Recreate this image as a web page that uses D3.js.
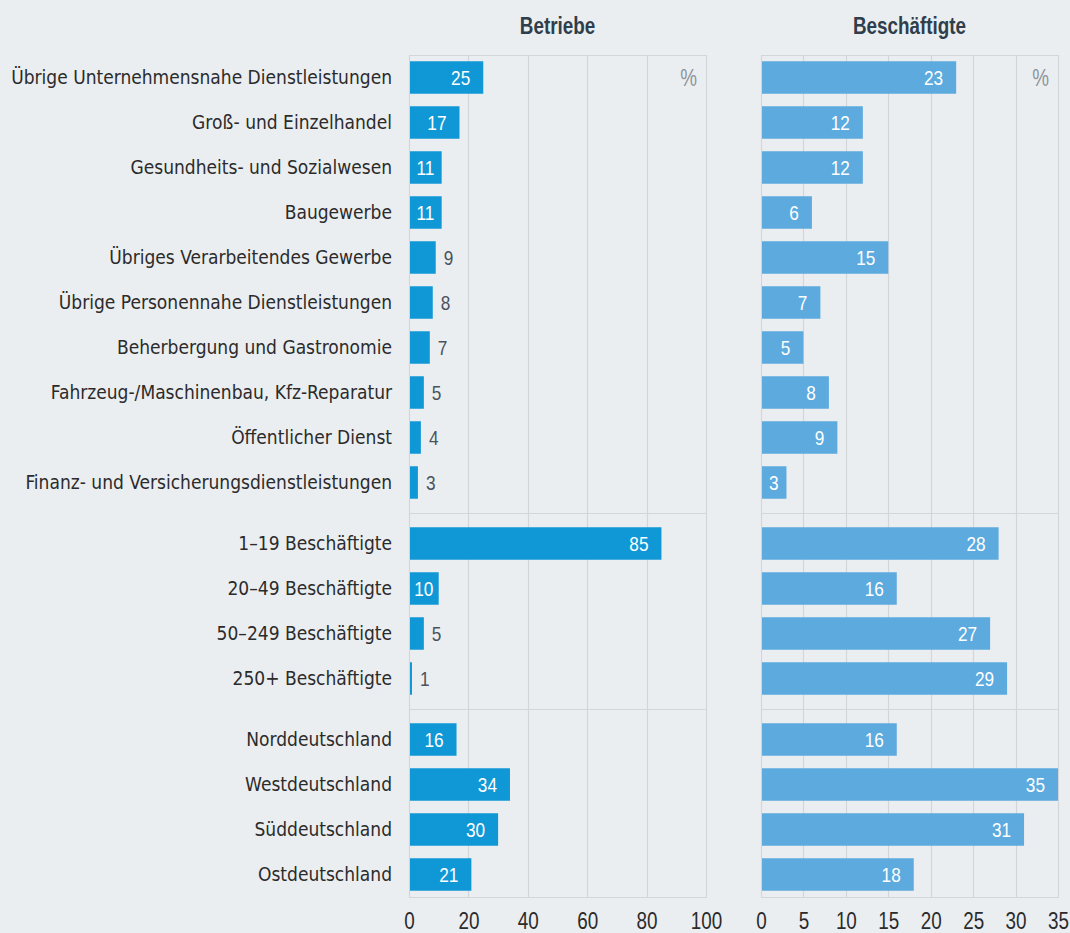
<!DOCTYPE html>
<html>
<head>
<meta charset="utf-8">
<script src="https://cdn.jsdelivr.net/npm/d3@7"></script>
<style>
  html, body { margin: 0; padding: 0; background: #ebeef1; }
  svg { display: block; }
</style>
</head>
<body>
<svg id="chart" width="1070" height="933"></svg>
<script>
// row labels, one array per block
var branchen = ["Übrige Unternehmensnahe Dienstleistungen", "Groß- und Einzelhandel",
  "Gesundheits- und Sozialwesen", "Baugewerbe", "Übriges Verarbeitendes Gewerbe",
  "Übrige Personennahe Dienstleistungen", "Beherbergung und Gastronomie",
  "Fahrzeug-/Maschinenbau, Kfz-Reparatur", "Öffentlicher Dienst",
  "Finanz- und Versicherungsdienstleistungen"];
var groessen = ["1–19 Beschäftigte", "20–49 Beschäftigte", "50–249 Beschäftigte", "250+ Beschäftigte"];
var regionen = ["Norddeutschland", "Westdeutschland", "Süddeutschland", "Ostdeutschland"];

// shares in percent, same row order
var betriebe = [25, 17, 11, 11, 9, 8, 7, 5, 4, 3, 85, 10, 5, 1, 16, 34, 30, 21];
var beschaeftigte = [23, 12, 12, 6, 15, 7, 5, 8, 9, 3, 28, 16, 27, 29, 16, 35, 31, 18];

var ticksBetriebe = [0, 20, 40, 60, 80, 100];
var ticksBeschaeftigte = [0, 5, 10, 15, 20, 25, 30, 35];

var svg = d3.select("#chart");
var panelTop = 55, rowStep = 45, groupGap = 16;
var groups = [branchen, groessen, regionen];

var rows = [];
groups.forEach(function(g, gi){
  g.forEach(function(name){
    rows.push({name: name, group: gi, idx: rows.length});
  });
});
var panelBottom = panelTop + rows.length * rowStep + (groups.length - 1) * groupGap;

var y = d3.scaleBand()
  .domain(rows.map(function(d){ return d.name; }))
  .range([panelTop, panelTop + rows.length * rowStep])
  .paddingInner(12.5 / 45)
  .paddingOuter(6.25 / 45);
function rowY(d){ return y(d.name) + d.group * groupGap; }
function rowMid(d){ return rowY(d) + y.bandwidth() / 2; }

// no narrow face installed: squeeze Liberation Sans horizontally instead
var numFont = "'Liberation Sans', Arial, sans-serif";
var squeeze = 0.82;
var labelFont = "'DejaVu Sans Condensed', sans-serif";
var gridCol = "#d3d6d9";

// category labels
svg.append("g").selectAll("text")
  .data(rows)
  .join("text")
  .attr("x", 392)
  .attr("y", rowMid)
  .attr("dy", "0.36em")
  .attr("text-anchor", "end")
  .style("font-family", labelFont)
  .style("font-size", "19px")
  .style("fill", "#2b2b2b")
  .text(function(d){ return d.name; });

var panels = [
  {title: "Betriebe", values: betriebe, domain: [0, 100], range: [409, 706],
   ticks: ticksBetriebe, color: "#1098d6", minInside: 10},
  {title: "Beschäftigte", values: beschaeftigte, domain: [0, 35], range: [761, 1058],
   ticks: ticksBeschaeftigte, color: "#5caade", minInside: 0}
];

panels.forEach(function(p){
  var x = d3.scaleLinear().domain(p.domain).range(p.range);
  var g = svg.append("g");
  function inside(d){ return p.values[d.idx] >= p.minInside; }

  // vertical grid
  g.selectAll("line.grid")
    .data(p.ticks)
    .join("line")
    .attr("class", "grid")
    .attr("x1", function(d){ return Math.round(x(d)) + 0.5; })
    .attr("x2", function(d){ return Math.round(x(d)) + 0.5; })
    .attr("y1", panelTop)
    .attr("y2", panelBottom)
    .style("stroke", gridCol)
    .style("stroke-width", 1.2);

  // top, bottom and block separators
  var seps = [panelTop, panelBottom];
  for (var gi = 1; gi < groups.length; gi++){
    var last = rows.filter(function(r){ return r.group === gi - 1; }).pop();
    var first = rows.filter(function(r){ return r.group === gi; })[0];
    seps.push((rowY(last) + y.bandwidth() + rowY(first)) / 2);
  }
  g.selectAll("line.sep")
    .data(seps)
    .join("line")
    .attr("class", "sep")
    .attr("x1", x(p.domain[0]))
    .attr("x2", x(p.domain[1]) + 1)
    .attr("y1", function(d){ return Math.round(d) + 0.5; })
    .attr("y2", function(d){ return Math.round(d) + 0.5; })
    .style("stroke", gridCol)
    .style("stroke-width", 1.2);

  // bars
  g.selectAll("rect")
    .data(rows)
    .join("rect")
    .attr("x", x(0) + 1)
    .attr("y", rowY)
    .attr("width", function(d){ return Math.max(0, x(p.values[d.idx]) - x(0) - 1); })
    .attr("height", y.bandwidth())
    .style("fill", p.color);

  // value labels: inside right with 13px pad, or centred when the bar is short
  g.selectAll("text.val")
    .data(rows)
    .join("text")
    .attr("class", "val")
    .attr("dy", "0.36em")
    .attr("text-anchor", function(d){ return inside(d) ? "end" : "start"; })
    .style("font-family", numFont)
    .style("font-size", "21px")
    .style("fill", function(d){ return inside(d) ? "#ffffff" : "#4a525b"; })
    .text(function(d){ return p.values[d.idx]; })
    .each(function(d){
      var v = p.values[d.idx];
      var tw = this.getComputedTextLength() * squeeze;
      var barW = x(v) - x(0);
      var tx = inside(d) ? x(v) - Math.min(13, (barW - tw) / 2) : x(v) + 8;
      d3.select(this).attr("transform",
        "translate(" + tx + "," + rowMid(d) + ") scale(" + squeeze + ",1)");
    });

  // percent sign
  g.append("text")
    .attr("transform", "translate(" + (x(p.domain[1]) - 9) + "," + rowMid(rows[0]) + ") scale(" + squeeze + ",1)")
    .attr("dy", "0.36em")
    .attr("text-anchor", "end")
    .style("font-family", numFont)
    .style("font-size", "23px")
    .style("fill", "#8d949b")
    .text("%");

  // title
  g.append("text")
    .attr("transform", "translate(" + ((p.range[0] + p.range[1]) / 2) + ",34) scale(" + squeeze + ",1)")
    .attr("text-anchor", "middle")
    .style("font-family", numFont)
    .style("font-size", "23px")
    .style("font-weight", "bold")
    .style("fill", "#2f3e4c")
    .text(p.title);

  // axis
  var ax = svg.append("g")
    .attr("transform", "translate(0," + (panelBottom + 16) + ")")
    .call(d3.axisBottom(x).tickValues(p.ticks).tickSize(0).tickPadding(0));
  ax.select(".domain").remove();
  ax.selectAll("text")
    .attr("dy", "0.71em")
    .attr("transform", "scale(" + squeeze + ",1)")
    .style("font-family", numFont)
    .style("font-size", "23px")
    .style("fill", "#2b2b2b");
});
</script>
</body>
</html>
